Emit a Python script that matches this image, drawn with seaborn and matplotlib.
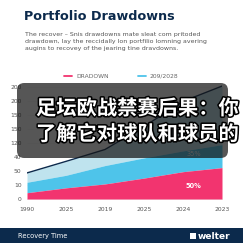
import matplotlib
matplotlib.use("Agg")
import matplotlib.pyplot as plt
import matplotlib.patheffects as pe
from matplotlib.patches import FancyBboxPatch, Rectangle
import seaborn as sns
import pandas as pd
import numpy as np

# ---- data ----
years = ["1990", "2025", "2019", "2025", "2024", "2023"]
drawdown = [0.45, 0.8, 1.08, 1.5, 1.96, 2.25]
recovery_top = [1.2, 1.7, 2.4, 2.95, 3.45, 3.9]
total = [1.87, 2.7, 3.55, 5.2, 7.0, 8.1]
ytick_labels = ["0", "10", "50", "40", "120", "150", "150", "200", "200"]
legend_labels = ["DRADOWN", "209/2028"]
title = "Portfolio Drawdowns"
subtitle = ("The recover – Snis drawdowns mate sleat com pritoded\n"
            "drawdown, lay the reccidally lon portfilio lomning avering\n"
            "augins to recovey of the jearing tine dravdowns.")
overlay_text = "足坛欧战禁赛后果：你\n了解它对球队和球员的"

PINK = "#F2346F"
BLUE = "#4EC4EA"
LIGHT = "#BFE3EE"
NAVY = "#0C2A4C"

sns.set_theme(style="white")
plt.rcParams["font.family"] = ["DejaVu Sans"]

W = H = 243
fig = plt.figure(figsize=(2.43, 2.43), dpi=100)
fig.patch.set_facecolor("white")

def fx(px): return px / W
def fy(py): return 1 - py / H

ax = fig.add_axes([fx(27), fy(199), fx(222) - fx(27), (199 - 84) / H])
df = pd.DataFrame({"x": np.arange(len(years)), "drawdown": drawdown,
                   "recovery": recovery_top, "total": total})
x = df["x"].values
ax.fill_between(x, 0, df["drawdown"], color=PINK, lw=0, zorder=3)
ax.fill_between(x, df["drawdown"], df["recovery"], color=BLUE, lw=0, zorder=2)
ax.fill_between(x, df["recovery"], df["total"], color=LIGHT, lw=0, zorder=1)
sns.lineplot(data=df, x="x", y="total", color=NAVY, lw=1.0, ax=ax, zorder=4)

ax.set_xlim(0, len(years) - 1)
ax.set_ylim(0, 8.25)
ax.set_xticks(x)
ax.set_xticklabels(years)
ax.set_yticks(range(len(ytick_labels)))
ax.set_yticklabels(ytick_labels)
ax.tick_params(axis="y", labelsize=4.3, colors="#555555", length=0, pad=4)
ax.tick_params(axis="x", labelsize=4.3, colors="#555555", length=0, pad=6)
ax.set_xlabel("")
ax.set_ylabel("")
ax.grid(axis="y", color="#f2f2f2", lw=0.4)
for s in ["top", "right", "left"]:
    ax.spines[s].set_visible(False)
ax.spines["bottom"].set_color("#e5e5e5")
ax.spines["bottom"].set_linewidth(0.5)

ax.text(4.27, 0.95, "50%", color="white", fontsize=4.8, fontweight="bold",
        ha="center", va="center", zorder=6)
ax.text(4.27, 3.2, "35%", color="white", fontsize=4.8,
        ha="center", va="center", zorder=6)

# title and subtitle
fig.text(fx(24), fy(17), title, fontsize=9.2, fontweight="bold",
         color=NAVY, va="center", ha="left")
fig.text(fx(25), fy(41.5), subtitle, fontsize=4.5, color="#555555",
         va="center", ha="left", linespacing=1.45)

# legend
fig.add_artist(plt.Line2D([fx(64), fx(72)], [fy(76), fy(76)], color=PINK,
                          lw=1.3, transform=fig.transFigure))
fig.text(fx(76), fy(76), legend_labels[0], fontsize=4.3, color="#666666", va="center")
fig.add_artist(plt.Line2D([fx(138), fx(146)], [fy(76), fy(76)], color=BLUE,
                          lw=1.3, transform=fig.transFigure))
fig.text(fx(150), fy(76), legend_labels[1], fontsize=4.3, color="#666666", va="center")

# footer band
fig.add_artist(Rectangle((0, 0), 1, fy(228), transform=fig.transFigure,
                         color=NAVY, lw=0, zorder=5))
fig.text(fx(18), fy(236), "Recovery Time", fontsize=4.8, color="white",
         va="center", zorder=6)
for i in range(2):
    for j in range(2):
        fig.add_artist(Rectangle((fx(190 + 3.2 * i), fy(239 - 3.2 * j)),
                                 fx(2.6), 2.6 / H, transform=fig.transFigure,
                                 color="white", lw=0, zorder=6))
fig.text(fx(198), fy(236), "welter", fontsize=6.5, fontweight="bold",
         color="white", va="center", zorder=6)

# overlay box with text
box = FancyBboxPatch((fx(17), fy(158)), fx(228) - fx(17), (158 - 83) / H,
                     boxstyle="round,pad=0,rounding_size=0.03",
                     transform=fig.transFigure, facecolor="#151515",
                     alpha=0.72, lw=0, zorder=10)
fig.add_artist(box)
fig.text(fx(36), fy(121), overlay_text, fontsize=14.6, fontweight="bold",
         color="white", va="center", ha="left", linespacing=1.28,
         family=["Noto Sans CJK SC", "DejaVu Sans"], zorder=11,
         path_effects=[pe.withStroke(linewidth=2.2, foreground="black")])

fig.savefig("out.png", dpi=100)
